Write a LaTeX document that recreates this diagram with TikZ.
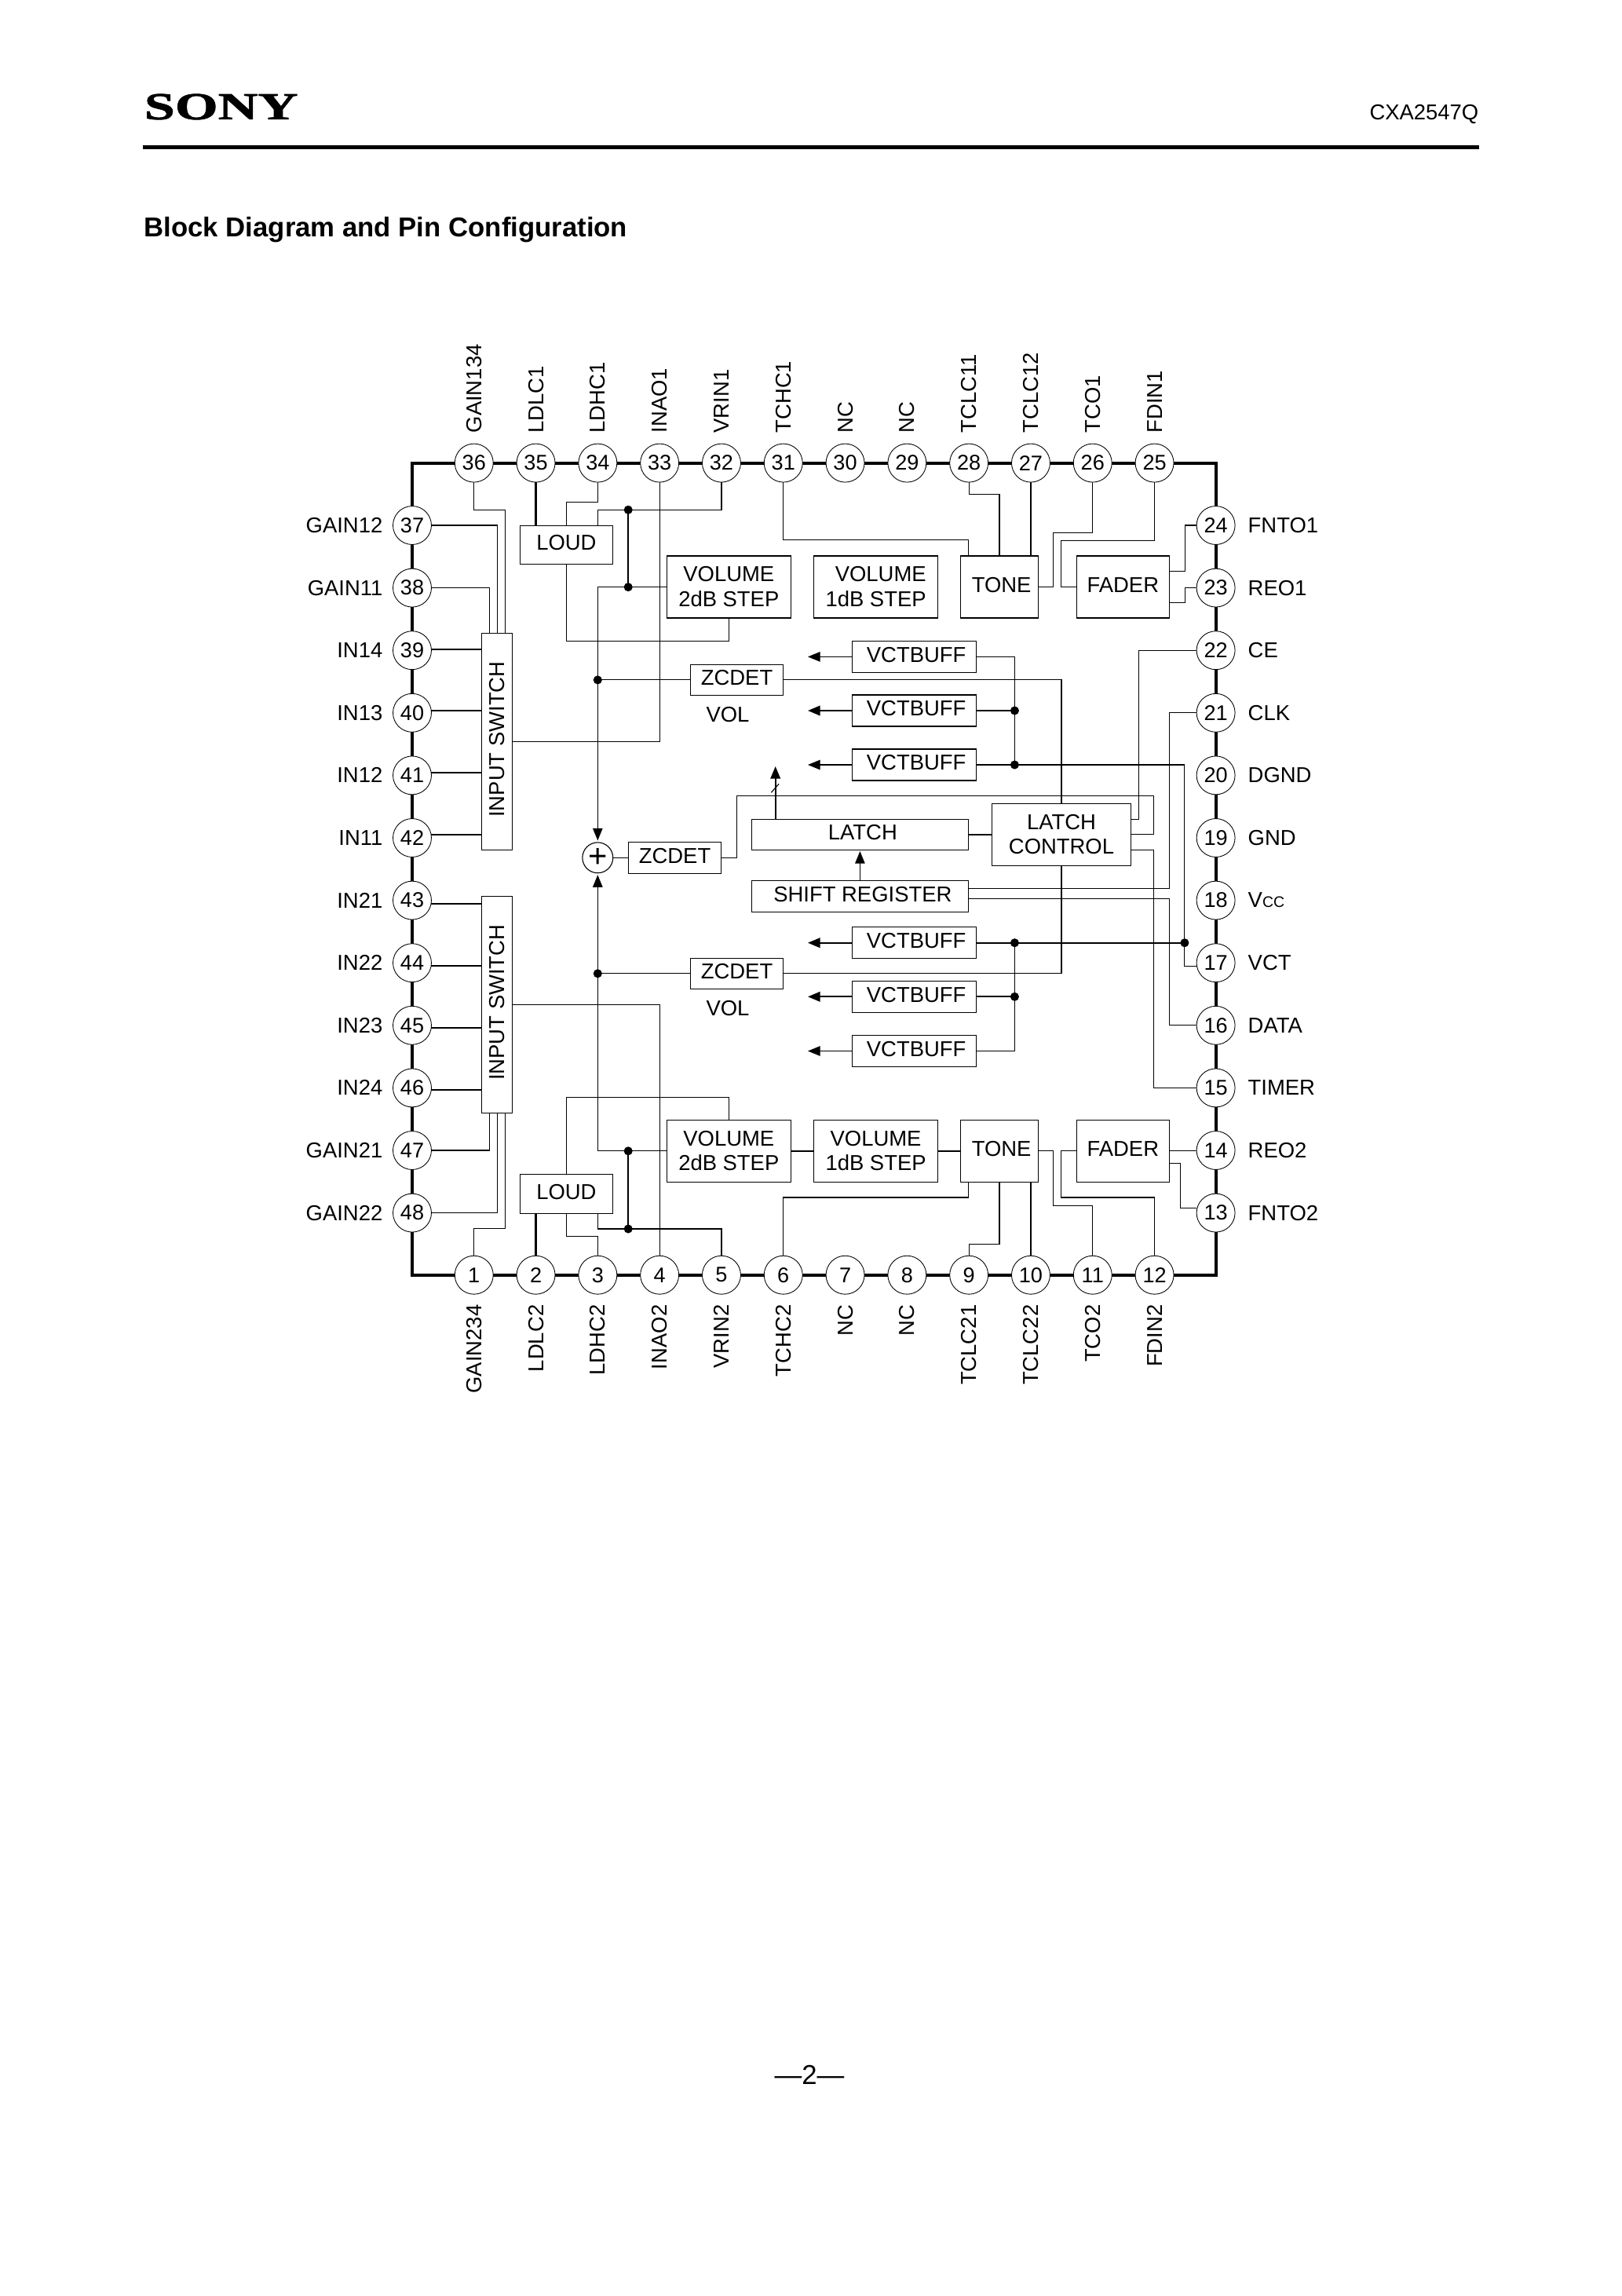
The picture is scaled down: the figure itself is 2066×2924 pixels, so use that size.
\documentclass[tikz,border=0pt]{standalone}
\usepackage{fontspec}
\usepackage{graphicx}
\setmainfont{Liberation Sans}
\newfontfamily\logofont[FakeStretch=1.45,FakeBold=1.5]{Liberation Serif}
\newcommand{\vccname}{V{\fontsize{5.6}{6}\selectfont CC}}
\usepackage{tikz}
\usetikzlibrary{arrows.meta}
\usetikzlibrary{backgrounds}

\begin{document}
\begin{tikzpicture}[x=0.288pt,y=-0.288pt,
			wire/.style={line width=0.32pt},
			buswire/.style={line width=0.62pt},
			framewire/.style={line width=1.2pt},
			tipped/.style={-{Triangle[length=4.5pt,width=3.6pt]}},
			textfont/.style={font=\fontsize{7.9}{9}\selectfont},
			pinnode/.style={circle,draw,line width=0.25pt,fill=white,inner sep=0pt,outer sep=0pt,minimum size=14.1pt,font=\fontsize{7.8}{9}\selectfont},
			toplabel/.style={textfont,inner sep=0pt,rotate=90,anchor=west},
			bottomlabel/.style={textfont,inner sep=0pt,rotate=90,anchor=east},
			leftlabel/.style={textfont,inner sep=0pt,anchor=east},
			rightlabel/.style={textfont,inner sep=0pt,anchor=west},
			blockbox/.style={draw,line width=0.38pt,inner sep=0pt,outer sep=0pt,textfont,align=center,text depth=1.6pt},
			twoline/.style={text depth=0.4pt},
			blocksize/.style 2 args={minimum width=#1*0.288pt,minimum height=#2*0.288pt},
			dotnode/.style={circle,fill,inner sep=0pt,minimum size=3.2pt},
			]
			\useasboundingbox (0,0) rectangle (2066,2924);
			\node[anchor=west,inner sep=0pt,font=\logofont\bfseries\fontsize{14}{16}\selectfont] (logo) at (183,136) {SONY};
			\node[textfont,anchor=east,inner sep=0pt] (partno) at (1884,146) {CXA2547Q};
			\coordinate (ruleleft) at (182,187.5);
			\coordinate (ruleright) at (1884,187.5);
			\draw[line width=1.4pt] (ruleleft) -- (ruleright);
			\node[anchor=west,inner sep=0pt,font=\bfseries\fontsize{10}{12}\selectfont] (title) at (183,293) {Block Diagram and Pin Configuration};
			\node[font=\fontsize{10}{12}\selectfont,inner sep=0pt] (pageno) at (1031,2642) {—2—};

			\foreach \n/\lab [count=\i from 0] in {36/GAIN134,35/LDLC1,34/LDHC1,33/INAO1,32/VRIN1,31/TCHC1,30/NC,29/NC,28/TCLC11,27/TCLC12,26/TCO1,25/FDIN1} {
				\pgfmathsetmacro\px{603.75+78.8*\i}
				\node[pinnode] (p\n) at (\px,589.6) {\n};
				\node[toplabel] (lab\n) at (\px,552) {\lab};
			}
			\foreach \n/\lab [count=\i from 0] in {1/GAIN234,2/LDLC2,3/LDHC2,4/INAO2,5/VRIN2,6/TCHC2,7/NC,8/NC,9/TCLC21,10/TCLC22,11/TCO2,12/FDIN2} {
				\pgfmathsetmacro\px{603.75+78.8*\i}
				\node[pinnode] (p\n) at (\px,1623.7) {\n};
				\node[bottomlabel] (lab\n) at (\px,1661) {\lab};
			}
			\foreach \n/\lab [count=\i from 0] in {37/GAIN12,38/GAIN11,39/IN14,40/IN13,41/IN12,42/IN11,43/IN21,44/IN22,45/IN23,46/IN24,47/GAIN21,48/GAIN22} {
				\pgfmathsetmacro\py{669+79.6*\i}
				\node[pinnode] (p\n) at (525,\py) {\n};
				\node[leftlabel] (lab\n) at (488,\py) {\lab};
			}
			\foreach \n/\lab [count=\i from 0] in {24/FNTO1,23/REO1,22/CE,21/CLK,20/DGND,19/GND,18/\vccname,17/VCT,16/DATA,15/TIMER,14/REO2,13/FNTO2} {
				\pgfmathsetmacro\py{669+79.6*\i}
				\node[pinnode] (p\n) at (1548.6,\py) {\n};
				\node[rightlabel] (lab\n) at (1589,\py) {\lab};
			}
			\begin{scope}[on background layer]
				\draw[framewire] (p1) -- (p12) -| (p13) -- (p24) |- (p25) -- (p36) -| (p37) -- (p48) |- (p1);
			\end{scope}

			\node[blockbox,blocksize={118.3}{49}] (loud1) at (721.35,693.75) {LOUD};
			\node[blockbox,twoline,blocksize={158}{79}] (vol2a) at (928.3,747.65) {VOLUME\\2dB STEP};
			\node[blockbox,twoline,align=right,blocksize={158}{79}] (vol1a) at (1115.6,747.65) {VOLUME\\1dB STEP};
			\node[blockbox,blocksize={98.6}{79}] (tone1) at (1273,747.65) {\hspace*{1.5pt}TONE};
			\node[blockbox,blocksize={118}{79}] (fader1) at (1430.35,747.65) {FADER};
			\node[blockbox,blocksize={38.8}{276}] (sw1) at (633,944.35) {\rotatebox{90}{INPUT SWITCH}};
			\node[blockbox,blocksize={38.8}{276}] (sw2) at (633,1279.5) {\rotatebox{90}{INPUT SWITCH}};
			\node[blockbox,blocksize={118}{39}] (zc1) at (938.55,865.9) {ZCDET};
			\node[blockbox,blocksize={118}{40}] (zc2) at (859.55,1092.3) {ZCDET};
			\node[blockbox,blocksize={118}{39}] (zc3) at (938.55,1239.8) {ZCDET};
			\node[textfont,inner sep=0pt] (vollab1) at (927,910) {VOL};
			\node[textfont,inner sep=0pt] (vollab2) at (927,1284) {VOL};
			\node[blockbox,blocksize={276.2}{39}] (latch) at (1095.4,1062.8) {\hspace*{2pt}LATCH};
			\node[blockbox,blocksize={276.2}{40}] (shift) at (1095.4,1141.3) {\hspace*{2pt}SHIFT REGISTER};
			\node[blockbox,twoline,blocksize={177.2}{79}] (lctl) at (1352,1062.8) {LATCH\\CONTROL};
			\node[blockbox,blocksize={118.3}{50}] (loud2) at (721.35,1520.3) {LOUD};
			\node[blockbox,twoline,blocksize={158}{79}] (vol2b) at (928.3,1465.8) {VOLUME\\2dB STEP};
			\node[blockbox,twoline,blocksize={158}{79}] (vol1b) at (1115.6,1465.8) {VOLUME\\1dB STEP};
			\node[blockbox,blocksize={98.6}{79}] (tone2) at (1273,1465.8) {\hspace*{1.5pt}TONE};
			\node[blockbox,blocksize={118}{79}] (fader2) at (1430.35,1465.8) {FADER};
			\node[circle,draw,line width=0.32pt,inner sep=0pt,outer sep=0pt,minimum size=11.2pt,font=\fontsize{12}{12}\selectfont] (sum) at (761.3,1092.3) {+};

			\foreach \n/\y/\w in {1/836.4/wire,2/905/buswire,3/974/wire,4/1200.7/buswire,5/1269.3/buswire,6/1338.5/wire} {
				\node[blockbox,blocksize={158.5}{40}] (vb\n) at (1164.55,\y) {\hspace*{1.5pt}VCTBUFF};
				\coordinate (vbtip\n) at (1029,\y);
				\draw[\w,tipped] (vb\n.west) -- (vbtip\n);
			}
			\foreach \n/\x/\y in {la/800.2/649.3,lb/800.2/747.65,za/761.3/865.9,va/1292.4/905,vb/1292.4/974,vc/1292.4/1200.7,vd/1292.4/1269.3,ct/1508.9/1200.7,zb/761.3/1239.8,lc/800.2/1465.8,ld/800.2/1565} {
				\node[dotnode] (d\n) at (\x,\y) {};
			}

			\draw[wire] (p36.south) |- (643.5,649.3) -- (643.5,0 |- sw1.north);
			\draw[wire] (p37.east) -| (633.2,0 |- sw1.north);
			\draw[wire] (p38.east) -| (623.4,0 |- sw1.north);
			\foreach \n/\y/\s in {39/826.8/1,40/905/1,41/983.7/1,42/1062.7/1,43/1150.7/2,44/1229.7/2,45/1309/2,46/1387.7/2} {
				\draw[buswire] (p\n.east |- 0,\y) -- (sw\s.west |- 0,\y);
			}
			\draw[buswire] (p35.south) -- (p35.south |- loud1.north);
			\draw[wire] (p34.south) |- (721.35,639.3) -- (loud1.north);
			\draw[wire] (p32.south) |- (761.3,649.3) -- (761.3,0 |- loud1.north);
			\draw[buswire] (dla.center) -- (dlb.center);
			\draw[wire,tipped,shorten >=0.7pt] (vol2a.west) -| (sum.north);
			\draw[wire,tipped,shorten >=0.7pt] (vol2b.west) -| (sum.south);
			\draw[wire] (dza.center) -- (zc1.west);
			\draw[wire] (dzb.center) -- (zc3.west);
			\draw[wire] (sum) -- (zc2);
			\draw[wire] (loud1.south) |- (928.3,816.4) -- (vol2a.south);
			\draw[wire] (p33.south) |- (sw1.east);
			\draw[wire] (p4.north) |- (sw2.east);
			\draw[wire] (p31.south) |- (1233.5,687.9) -- (1233.5,0 |- tone1.north);
			\draw[wire] (p28.south) |- (1273,629.3) -- (tone1.north);
			\draw[buswire] (p27.south) -- (p27.south |- tone1.north);
			\draw[wire] (p26.south) |- (1341.5,678.2) |- (tone1.east);
			\draw[wire] (p25.south) |- (1351.3,688.2) |- (fader1.west);
			\draw[wire] (p24.west) -| (1509.4,727.9) -- (fader1.east |- 0,727.9);
			\draw[wire] (p23.west) -| (1509.4,767.1) -- (fader1.east |- 0,767.1);
			\draw[wire] (p22.west) -| (1450.4,1043.3) -- (lctl.east |- 0,1043.3);
			\draw[wire] (p21.west) -| (1489.7,1131.3) -- (shift.east |- 0,1131.3);
			\draw[wire] (zc2.east) -| (938.6,1013.3) -| (1469.6,1062.8) -- (lctl.east);
			\draw[wire] (lctl.east |- 0,1082.3) -- (1469.6,1082.3) |- (p15.west);
			\draw[wire] (shift.east |- 0,1144.3) -- (1489.7,1144.3) |- (p16.west);
			\draw[wire] (zc1.east) -| (lctl.north);
			\draw[wire] (lctl.south) |- (zc3.east);
			\draw[buswire] (latch) -- (lctl);
			\draw[wire,tipped,shorten >=0.5pt] (shift.north) -- (latch.south);
			\coordinate (busend) at (987.7,976);
			\draw[buswire,tipped] (busend |- latch.north) -- (busend);
			\draw[wire] (982.3,1009.3) -- (992.1,998.3);

			\draw[wire] (vb1.east) -| (dvb.center);
			\draw[buswire] (vb2.east) -- (dva.center);
			\draw[wire] (vb3.east) -- (dvb.center) -| (dct.center) |- (p17.west |- 0,1230.7);
			\draw[buswire] (vb4.east) -- (dct.center);
			\draw[buswire] (vb5.east) -- (dvd.center);
			\draw[wire] (dvc.center) -- (dvd.center) |- (vb6.east);

			\draw[wire] (vol2b.north) -- (928.3,1397.3) -| (loud2.north);
			\draw[buswire] (vol2b) -- (vol1b);
			\draw[buswire] (vol1b) -- (tone2);
			\draw[wire] (p48.east) -| (633.2,0 |- sw2.south);
			\draw[wire] (p47.east) -| (623.4,0 |- sw2.south);
			\draw[wire] (p1.north) |- (643.5,1564.3) -- (643.5,0 |- sw2.south);
			\draw[buswire] (p2.north) -- (p2.north |- loud2.south);
			\draw[wire] (p3.north) |- (721.35,1574.3) -- (loud2.south);
			\draw[wire] (p5.north) |- (761.3,1565) -- (761.3,0 |- loud2.south);
			\draw[buswire] (dlc.center) -- (dld.center);
			\draw[wire] (p6.north) |- (1233.5,1525) -- (1233.5,0 |- tone2.south);
			\draw[wire] (p9.north) |- (1273,1584.3) -- (tone2.south);
			\draw[buswire] (p10.north) -- (p10.north |- tone2.south);
			\draw[wire] (p11.north) |- (1341.5,1535.3) |- (tone2.east);
			\draw[wire] (p12.north) |- (1351.3,1525) |- (fader2.west);
			\draw[wire] (fader2.east) -- (p14.west |- fader2.east);
			\draw[wire] (p13.west |- 0,1538.3) -| (1503.6,1481.3) -- (fader2.east |- 0,1481.3);
		\end{tikzpicture}
\end{document}
